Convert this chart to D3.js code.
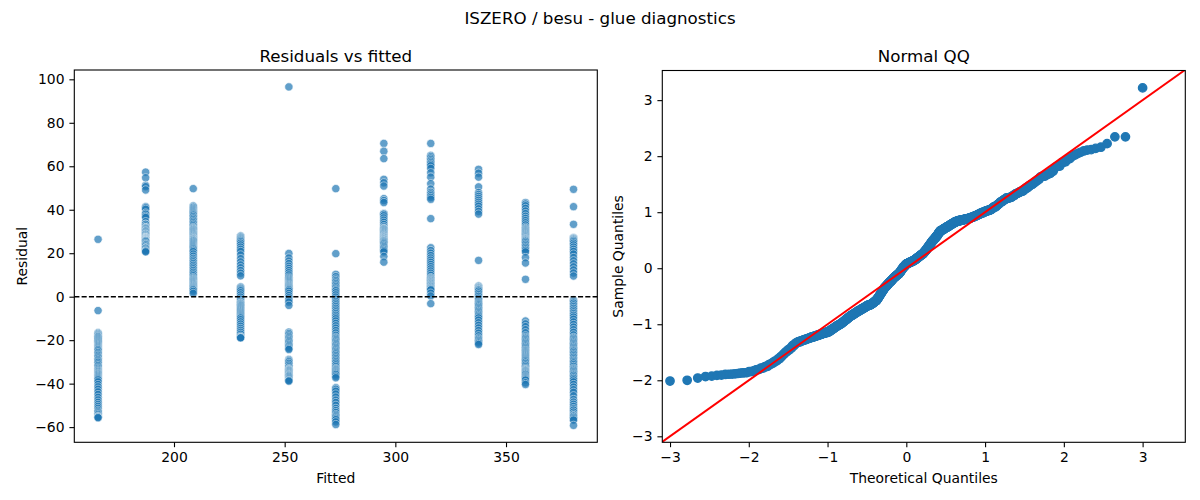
<!DOCTYPE html>
<html>
<head>
<meta charset="utf-8">
<script src="https://cdn.jsdelivr.net/npm/d3@7"></script>
<style>
  body { margin: 0; background: #fff; }
  svg { display: block; font-family: "DejaVu Sans", sans-serif; }
  .tick text { font-size: 13.9px; fill: #000; }
  .tick line { stroke: #000; stroke-width: 1.1; }
</style>
</head>
<body>
<svg id="chart" width="1200" height="500"></svg>
<script>
// fitted value of each vertical column of residuals
const fitted = [165.7, 187.2, 208.7, 230.1, 251.9, 273.1, 294.8, 316.0, 337.6, 358.8, 380.5];

// residuals per column (stacked points estimated)
const resid1 = [26.4, -6.4, -16.6, -17.0, -17.4, -17.8, -18.2, -18.5, -19.0, -19.5, -20.0, -20.5, -21.0, -21.5, -22.0, -22.5, -23.0, -23.5, -24.0, -24.4, -25.0, -25.7, -26.4, -27.0, -27.7, -28.3, -29.0, -29.6, -30.2, -31.0, -31.7, -32.4, -33.0, -33.6, -34.1, -34.5, -35.0, -35.4, -35.8, -36.3, -36.8, -37.3, -37.8, -38.3, -39.2, -40.4, -41.5, -42.6, -43.8, -45.0, -46.3, -47.5, -48.6, -49.6, -50.5, -51.4, -52.3, -53.0, -53.6, -54.2, -54.9, -55.2, -55.5, -55.7];
const resid2 = [57.3, 54.7, 51.2, 50.6, 49.1, 41.4, 40.9, 40.2, 38.5, 37.9, 37.0, 36.4, 34.5, 33.3, 33.3, 32.5, 31.8, 31.8, 31.5, 31.2, 30.7, 30.2, 30.2, 29.7, 29.2, 28.7, 28.7, 28.2, 27.8, 27.5, 27.2, 27.2, 27.0, 26.8, 26.6, 26.4, 26.2, 26.0, 25.8, 25.7, 25.3, 24.6, 24.1, 23.8, 23.2, 22.5, 22.5, 22.2, 21.6, 21.0, 21.0, 20.6];
const resid3 = [49.7, 41.7, 41.1, 40.5, 40.0, 39.5, 39.0, 38.5, 38.0, 37.5, 36.8, 36.1, 35.4, 34.7, 34.0, 33.3, 32.6, 31.9, 31.5, 31.2, 30.9, 30.5, 30.1, 29.7, 29.3, 28.9, 28.5, 28.1, 27.7, 27.3, 27.0, 26.7, 26.4, 26.1, 25.8, 25.4, 24.9, 24.4, 23.9, 23.4, 22.9, 22.4, 21.9, 21.3, 20.7, 19.6, 18.6, 17.6, 16.8, 16.0, 15.2, 14.4, 13.6, 12.8, 12.0, 11.2, 10.4, 9.6, 8.8, 8.3, 7.9, 7.5, 7.1, 6.7, 6.3, 5.9, 5.5, 5.1, 4.7, 4.3, 3.9, 3.5, 3.1, 2.4, 1.5];
const resid4 = [27.9, 27.4, 27.0, 26.6, 26.2, 25.8, 25.3, 24.6, 23.8, 22.8, 21.8, 20.8, 19.2, 17.5, 16.0, 14.6, 13.3, 12.0, 10.8, 9.6, 4.5, 4.1, 3.7, 3.2, 2.7, 1.8, 0.8, -0.2, -1.2, -2.2, -2.8, -3.1, -3.5, -3.9, -4.3, -4.8, -5.3, -5.8, -6.3, -6.8, -7.3, -7.8, -8.3, -8.8, -9.3, -9.8, -10.6, -11.6, -12.6, -13.6, -14.6, -15.5, -16.4, -17.3, -18.2, -18.7, -18.8, -18.9, -18.9];
const resid5 = [96.5, 19.9, 17.8, 16.4, 15.2, 14.0, 13.0, 12.0, 11.0, 10.0, 9.0, 8.4, 7.9, 7.4, 6.9, 6.4, 5.9, 5.5, 5.1, 4.7, 4.3, 3.9, 3.5, 3.1, 2.5, 1.5, 0.5, -0.5, -1.5, -2.5, -4.0, -16.3, -17.0, -17.7, -18.4, -19.0, -19.6, -20.2, -20.8, -21.4, -22.0, -22.6, -23.2, -23.8, -24.3, -28.9, -29.5, -30.0, -30.7, -31.5, -32.3, -33.0, -33.4, -33.6, -33.9, -34.2, -34.6, -35.0, -35.4, -35.8, -36.1, -36.4, -36.8, -37.3, -37.8, -38.3, -38.7, -38.8];
const resid6 = [49.7, 19.8, 10.3, 9.2, 8.1, 7.4, 6.7, 6.0, 5.3, 4.6, 3.9, 3.2, 2.7, 1.8, 0.8, -0.2, -1.2, -2.2, -3.0, -3.8, -4.6, -5.4, -6.2, -7.0, -7.8, -8.6, -9.4, -10.2, -11.2, -12.3, -13.4, -14.5, -15.6, -16.7, -17.8, -18.7, -19.2, -19.8, -20.4, -21.0, -21.6, -22.2, -22.8, -23.4, -24.0, -24.6, -25.2, -25.8, -26.4, -27.1, -27.8, -28.5, -29.2, -29.9, -30.6, -31.4, -32.2, -33.0, -33.4, -33.8, -34.3, -34.8, -35.3, -35.8, -36.6, -37.3, -41.9, -42.6, -43.5, -44.8, -46.2, -47.6, -48.7, -50.0, -51.4, -52.4, -53.3, -54.2, -54.8, -55.4, -56.0, -56.6, -57.6, -58.8];
const resid7 = [70.5, 66.9, 63.5, 54.0, 52.4, 50.9, 45.1, 44.2, 43.3, 38.3, 38.2, 38.0, 37.9, 37.2, 36.2, 35.2, 34.2, 33.2, 32.2, 31.5, 31.3, 31.0, 30.6, 30.2, 29.8, 29.4, 29.0, 28.6, 28.2, 27.9, 27.6, 27.3, 27.0, 26.7, 26.4, 26.1, 25.8, 25.5, 25.1, 24.7, 24.2, 23.6, 23.0, 22.4, 21.8, 21.2, 20.6, 18.5, 15.9];
const resid8 = [70.5, 65.0, 64.4, 63.7, 63.0, 62.3, 61.6, 60.9, 60.2, 59.0, 57.0, 55.0, 52.0, 49.5, 48.0, 47.2, 46.4, 45.6, 44.8, 35.9, 22.5, 21.2, 20.0, 18.9, 17.8, 16.8, 15.8, 14.8, 13.8, 12.8, 11.8, 10.8, 9.8, 8.8, 8.4, 8.0, 7.6, 7.3, 6.9, 6.6, 6.2, 5.9, 5.5, 5.2, 4.8, 4.5, 4.1, 3.8, 3.4, 3.1, 1.6, 0.3, -3.2];
const resid9 = [58.6, 56.8, 55.0, 50.5, 47.9, 47.0, 46.1, 45.2, 44.3, 43.4, 42.5, 41.6, 40.4, 39.2, 38.0, 16.7, 4.9, 4.5, 4.2, 3.9, 3.6, 3.3, 3.0, 2.5, 1.7, 0.9, 0.1, -0.7, -1.5, -2.3, -2.8, -3.3, -3.8, -4.4, -5.0, -5.6, -6.2, -6.8, -7.4, -8.0, -8.6, -9.2, -9.8, -10.8, -12.0, -13.2, -14.4, -15.6, -16.8, -18.0, -19.0, -19.6, -20.2, -20.8, -21.4, -22.0];
const resid10 = [43.3, 42.6, 41.8, 40.6, 39.4, 38.2, 37.0, 36.0, 35.0, 34.0, 33.0, 32.0, 31.4, 31.0, 30.6, 30.2, 29.8, 29.4, 29.0, 28.6, 28.2, 27.8, 27.4, 27.0, 26.7, 26.4, 26.1, 25.8, 25.4, 24.8, 24.1, 23.4, 22.7, 22.0, 21.3, 20.6, 18.0, 15.5, 8.0, -11.2, -12.5, -13.8, -15.2, -16.6, -18.0, -18.7, -19.2, -19.8, -20.4, -21.0, -21.6, -22.2, -22.8, -23.4, -24.0, -24.6, -25.0, -25.5, -26.0, -26.5, -27.0, -27.5, -28.0, -28.5, -29.0, -29.5, -30.1, -30.8, -31.5, -32.2, -32.9, -33.4, -33.6, -33.9, -34.2, -34.6, -35.0, -35.4, -35.8, -36.4, -36.9, -37.4, -37.9, -38.4, -39.6, -40.4];
const resid11 = [49.4, 41.4, 33.3, 27.1, 26.9, 26.7, 26.4, 26.1, 25.8, 25.3, 24.6, 23.8, 22.8, 21.8, 20.8, 19.6, 18.0, 16.5, 15.1, 13.7, 12.3, 10.9, 9.5, -1.5, -1.9, -2.4, -3.0, -3.8, -4.6, -5.4, -6.2, -7.0, -7.8, -8.6, -9.4, -10.4, -11.6, -12.8, -14.0, -15.2, -16.4, -17.6, -18.7, -19.2, -19.8, -20.4, -21.0, -21.6, -22.2, -22.8, -23.4, -24.0, -24.6, -25.1, -25.8, -26.5, -27.2, -27.9, -28.6, -29.3, -29.9, -30.5, -31.3, -32.1, -32.9, -33.4, -33.9, -34.5, -35.1, -35.7, -36.2, -36.9, -37.6, -38.3, -39.2, -40.4, -41.6, -42.8, -44.0, -45.6, -47.3, -48.5, -49.5, -50.5, -51.5, -52.2, -53.1, -54.0, -54.7, -55.0, -55.6, -56.2, -56.8, -59.2];
const residCols = [resid1, resid2, resid3, resid4, resid5, resid6, resid7, resid8, resid9, resid10, resid11];

const fittedTicks = [200, 250, 300, 350];
const residTicks = [-60, -40, -20, 0, 20, 40, 60, 80, 100];
const qqTicks = [-3, -2, -1, 0, 1, 2, 3];

const BLUE = '#1f77b4';
const TICK = 4.9;   // 3.5pt
const FS = 13.9;    // 10pt
const TS = 16.7;    // 12pt

const fmt = d => String(d).replace('-', '\u2212');

// inverse standard normal cdf (Acklam)
function normInv(p) {
    const a = [-39.6968302866538, 220.946098424521, -275.928510446969, 138.357751867269, -30.6647980661472, 2.50662827745924];
    const b = [-54.4760987982241, 161.585836858041, -155.698979859887, 66.8013118877197, -13.2806815528857];
    const c = [-0.00778489400243029, -0.322396458041136, -2.40075827716184, -2.54973253934373, 4.37466414146497, 2.93816398269878];
    const d = [0.00778469570904146, 0.32246712907004, 2.445134137143, 3.75440866190742];
    const pl = 0.02425;
    let q, r;
    if (p < pl) {
        q = Math.sqrt(-2 * Math.log(p));
        return (((((c[0]*q+c[1])*q+c[2])*q+c[3])*q+c[4])*q+c[5]) / ((((d[0]*q+d[1])*q+d[2])*q+d[3])*q+1);
    }
    if (p > 1 - pl) {
        q = Math.sqrt(-2 * Math.log(1 - p));
        return -(((((c[0]*q+c[1])*q+c[2])*q+c[3])*q+c[4])*q+c[5]) / ((((d[0]*q+d[1])*q+d[2])*q+d[3])*q+1);
    }
    q = p - 0.5; r = q * q;
    return (((((a[0]*r+a[1])*r+a[2])*r+a[3])*r+a[4])*r+a[5])*q / (((((b[0]*r+b[1])*r+b[2])*r+b[3])*r+b[4])*r+1);
}

const svg = d3.select('#chart');

// suptitle
svg.append('text').attr('x', 600).attr('y', 23.5)
    .attr('text-anchor', 'middle').attr('font-size', TS)
    .text('ISZERO / besu - glue diagnostics');

function frame(box, title, xlab, ylab, xScale, yScale, xt, yt) {
    const g = svg.append('g');
    g.append('g').attr('transform', `translate(0,${box.y1})`)
        .call(d3.axisBottom(xScale).tickValues(xt).tickFormat(fmt).tickSize(TICK).tickPadding(4.9))
        .call(s => s.select('.domain').remove());
    g.append('g').attr('transform', `translate(${box.x0},0)`)
        .call(d3.axisLeft(yScale).tickValues(yt).tickFormat(fmt).tickSize(TICK).tickPadding(4.9))
        .call(s => s.select('.domain').remove());
    g.selectAll('.tick text').attr('font-family', '"DejaVu Sans", sans-serif');

    g.append('text').attr('x', (box.x0 + box.x1) / 2).attr('y', box.y0 - 8.5)
        .attr('text-anchor', 'middle').attr('font-size', TS).text(title);
    g.append('text').attr('x', (box.x0 + box.x1) / 2).attr('y', 483)
        .attr('text-anchor', 'middle').attr('font-size', FS).text(xlab);
    g.append('text')
        .attr('transform', `translate(${box.ylabX},${(box.y0 + box.y1) / 2}) rotate(-90)`)
        .attr('text-anchor', 'middle').attr('font-size', FS).text(ylab);
    return g;
}

function spines(box) {
    svg.append('rect')
        .attr('x', box.x0).attr('y', box.y0)
        .attr('width', box.x1 - box.x0).attr('height', box.y1 - box.y0)
        .attr('fill', 'none').attr('stroke', '#000').attr('stroke-width', 1.1);
}

// ---- left: residuals vs fitted
const L = { x0: 74.3, x1: 597.3, y0: 70, y1: 442.3, ylabX: 27 };
const allResid = residCols.flat();
const fx = d3.extent(fitted), fy = d3.extent(allResid);
const mx = (fx[1] - fx[0]) * 0.05, my = (fy[1] - fy[0]) * 0.05;
const xL = d3.scaleLinear().domain([fx[0] - mx, fx[1] + mx]).range([L.x0, L.x1]);
const yL = d3.scaleLinear().domain([fy[0] - my, fy[1] + my]).range([L.y1, L.y0]);

frame(L, 'Residuals vs fitted', 'Fitted', 'Residual', xL, yL, fittedTicks, residTicks);

const pts = [];
residCols.forEach((col, i) => col.forEach(r => pts.push({ f: fitted[i], r })));

svg.append('g').selectAll('circle').data(pts).join('circle')
    .attr('cx', d => xL(d.f)).attr('cy', d => yL(d.r))
    .attr('r', 4.17)
    .attr('fill', BLUE).attr('stroke', '#fff').attr('stroke-width', 0.67)
    .attr('opacity', 0.7);

svg.append('line')
    .attr('x1', L.x0).attr('x2', L.x1)
    .attr('y1', yL(0)).attr('y2', yL(0))
    .attr('stroke', '#000').attr('stroke-width', 1.4)
    .attr('stroke-dasharray', '5.1,2.2');

spines(L);

// ---- right: normal QQ of standardized residuals
const R = { x0: 662.3, x1: 1185.3, y0: 70.5, y1: 442.3, ylabX: 623 };
const xR = d3.scaleLinear().domain([-3.098, 3.542]).range([R.x0, R.x1]);
const yR = d3.scaleLinear().domain([-3.107, 3.529]).range([R.y1, R.y0]);

frame(R, 'Normal QQ', 'Theoretical Quantiles', 'Sample Quantiles', xR, yR, qqTicks, qqTicks);

const sorted = allResid.slice().sort((a, b) => a - b);
const n = sorted.length;
const mean = d3.mean(sorted);
const sd = Math.sqrt(d3.mean(sorted, v => (v - mean) ** 2));
const qq = sorted.map((v, i) => ({ t: normInv((i + 1) / (n + 1)), s: (v - mean) / sd }));

svg.append('defs').append('clipPath').attr('id', 'qq-clip')
    .append('rect').attr('x', R.x0).attr('y', R.y0)
    .attr('width', R.x1 - R.x0).attr('height', R.y1 - R.y0);

svg.append('g').selectAll('circle').data(qq).join('circle')
    .attr('cx', d => xR(d.t)).attr('cy', d => yR(d.s))
    .attr('r', 4.17)
    .attr('fill', BLUE).attr('stroke', BLUE).attr('stroke-width', 1.39);

const lo = Math.min(xR.domain()[0], yR.domain()[0]);
const hi = Math.max(xR.domain()[1], yR.domain()[1]);
svg.append('line').attr('clip-path', 'url(#qq-clip)')
    .attr('x1', xR(lo)).attr('y1', yR(lo))
    .attr('x2', xR(hi)).attr('y2', yR(hi))
    .attr('stroke', 'red').attr('stroke-width', 2);

spines(R);
</script>
</body>
</html>
